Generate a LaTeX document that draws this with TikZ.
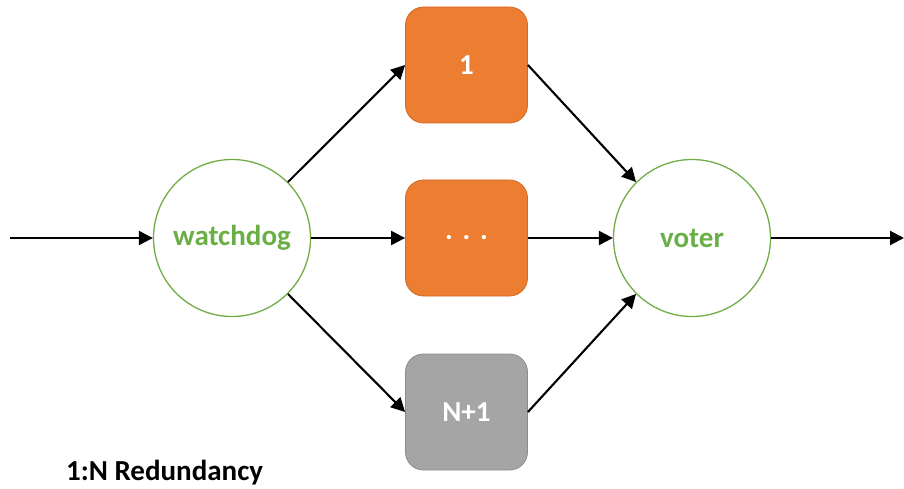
\documentclass[tikz,border=0pt]{standalone}
\usepackage{fontspec}
\setmainfont{Carlito}
\usetikzlibrary{arrows.meta}
\definecolor{wdgreen}{HTML}{70AD47}
\definecolor{txtgreen}{HTML}{6AAF45}
\definecolor{unitorange}{HTML}{ED7D31}
\definecolor{unitorangeedge}{HTML}{D26A24}
\definecolor{sparegray}{HTML}{A5A5A5}
\definecolor{sparegrayedge}{HTML}{8C8C8C}
\tikzset{
  labelfont/.style={font=\fontsize{29}{33}\selectfont\bfseries},
  ctrl/.style={circle, draw=wdgreen, line width=1.3pt, fill=white,
    minimum size=157pt, inner sep=0pt, text=txtgreen, labelfont},
  unit/.style={rounded corners=18pt, draw=unitorangeedge, line width=0.8pt,
    fill=unitorange, minimum width=122pt, minimum height=116pt,
    inner sep=0pt, text=white, labelfont},
  spare/.style={unit, draw=sparegrayedge, fill=sparegray},
  flow/.style={line width=2.1pt, -{Triangle[length=14pt,width=14pt]}},
}
\begin{document}
\begin{tikzpicture}[x=1pt,y=1pt]
  \useasboundingbox (0,0) rectangle (904,-489);

  % controller circles
  \node[ctrl] (wd) at (232,-238) {watchdog};
  \node[ctrl] (vt) at (692,-238) {voter};

  % redundant units
  \node[unit]  (u1) at (466.5,-65)  {1};
  \node[unit]  (um) at (466.5,-238) {.\,\,.\,\,.};
  \node[spare] (un) at (466.5,-412) {N+1};

  % free ends of input and output
  \coordinate (in)  at (10,-238);
  \coordinate (out) at (904,-238);

  % connectors
  \draw[flow] (in) -- (wd.west);
  \draw[flow] (wd.45) -- (u1.west);
  \draw[flow] (wd.east) -- (um.west);
  \draw[flow] (wd.-45) -- (un.west);
  \draw[flow] (u1.east) -- (vt.135);
  \draw[flow] (um.east) -- (vt.west);
  \draw[flow] (un.east) -- (vt.-135);
  \draw[flow] (vt.east) -- (out);

  % caption
  \node[anchor=base west, inner sep=0pt, labelfont]
    (cap) at (66,-480) {1:N Redundancy};
\end{tikzpicture}
\end{document}
